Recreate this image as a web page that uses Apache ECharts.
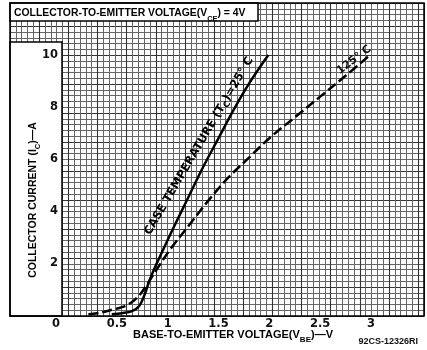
<!DOCTYPE html>
<html><head><meta charset="utf-8">
<script src="https://cdn.jsdelivr.net/npm/echarts@6/dist/echarts.min.js"></script>
<style>html,body{margin:0;padding:0;background:#fff}#c{width:427px;height:350px}</style>
</head><body><div id="c"></div>
<script>
// ---- data ----
const xTickLabels = ['0', '0.5', '1', '1.5', '2', '2.5', '3'];
const yTickLabels = ['2', '4', '6', '8', '10'];
// Case temperature 25 °C (solid)
const vbe25 = [0.45, 0.55, 0.65, 0.72, 0.77, 0.81, 0.86, 0.93, 1.05, 1.2, 1.35, 1.5, 1.65, 1.8, 1.99];
const ic25  = [0.03, 0.07, 0.15, 0.35, 0.75, 1.2, 1.7, 2.3, 3.3, 4.5, 5.7, 6.8, 7.9, 8.9, 10.0];
// Case temperature 125 °C (dashed)
const vbe125 = [0.22, 0.35, 0.45, 0.55, 0.65, 0.73, 0.81, 0.9, 1.03, 1.2, 1.4, 1.6, 1.8, 2.0, 2.25, 2.5, 2.75, 2.99];
const ic125  = [0.03, 0.1, 0.2, 0.3, 0.5, 0.8, 1.25, 1.8, 2.55, 3.4, 4.4, 5.3, 6.05, 6.8, 7.6, 8.4, 9.2, 10.0];

const FONT = 'Liberation Sans';
const FONT2 = 'DejaVu Sans';
const chart = echarts.init(document.getElementById('c'), null, {renderer: 'canvas'});

const paperAxis = (max, interval, color, width) => ({
  gridIndex: 0, type: 'value', min: 0, max: max, interval: interval, z: 0,
  axisLine: {show: false}, axisTick: {show: false}, axisLabel: {show: false},
  splitLine: {show: true, lineStyle: {color: color, width: width}}
});

const subRich = (size) => ({
  n: {fontFamily: FONT, fontWeight: 'bold', fontSize: size, color: '#111', lineHeight: 18, verticalAlign: 'middle'},
  s: {fontFamily: FONT, fontWeight: 'bold', fontSize: size - 3, color: '#111', lineHeight: 9, verticalAlign: 'bottom'}
});

const option = {
  backgroundColor: '#fff',
  animation: false,
  grid: [
    {left: 10, right: 3, top: 3, bottom: 34},
    {left: 66, right: 56, top: 55, bottom: 35}
  ],
  xAxis: [
    paperAxis(71, 1, '#666', 1),
    paperAxis(71, 5, '#333', 1.1),
    {
      gridIndex: 1, type: 'value', min: 0, max: 3, interval: 0.5, z: 40,
      axisLine: {show: false}, axisTick: {show: false}, splitLine: {show: false},
      axisLabel: {
        show: true, margin: 3, color: '#111', fontFamily: FONT2, fontWeight: 'bold', fontSize: 11.5,
        formatter: v => {
          const lab = xTickLabels[Math.round(v / 0.5)];
          return Math.round(v / 0.5) === 0 ? '{z|' + lab + '}' : lab;
        },
        rich: {z: {fontFamily: FONT2, fontWeight: 'bold', fontSize: 11.5, color: '#111', padding: [0, 20, 0, 0]}}
      }
    }
  ],
  yAxis: [
    paperAxis(54, 1, '#666', 1),
    paperAxis(54, 5, '#333', 1.1),
    {
      gridIndex: 1, type: 'value', min: 0, max: 10, interval: 2, z: 40,
      axisLine: {show: false}, axisTick: {show: false}, splitLine: {show: false},
      axisLabel: {
        show: true, margin: 8, color: '#111', fontFamily: FONT2, fontWeight: 'bold', fontSize: 11.5,
        formatter: v => v === 0 ? '' : yTickLabels[Math.round(v / 2) - 1]
      }
    }
  ],
  series: [
    {
      type: 'line', xAxisIndex: 2, yAxisIndex: 2, z: 30, clip: false,
      data: vbe25.map((v, i) => [v, ic25[i]]),
      showSymbol: false, smooth: 0.35,
      lineStyle: {color: '#000', width: 2.5}
    },
    {
      type: 'line', xAxisIndex: 2, yAxisIndex: 2, z: 30, clip: false,
      data: vbe125.map((v, i) => [v, ic125[i]]),
      showSymbol: false, smooth: 0.35,
      lineStyle: {color: '#000', width: 2.5, type: [10, 4]}
    }
  ],
  graphic: [
    {type: 'rect', z: 20, shape: {x: 10, y: 42, width: 52, height: 274},
     style: {fill: '#fff', stroke: '#000', lineWidth: 1.5}},
    {type: 'rect', z: 20, shape: {x: 10, y: 3, width: 248, height: 18},
     style: {fill: '#fff', stroke: '#000', lineWidth: 1.5}},
    {type: 'rect', z: 21, shape: {x: 10, y: 3, width: 414, height: 313},
     style: {fill: null, stroke: '#000', lineWidth: 1.5}},
    {type: 'text', z: 50, x: 14, y: 13,
     style: {text: '{n|COLLECTOR-TO-EMITTER VOLTAGE(V}{s|CE}{n|) = 4V}', rich: subRich(10.4),
             align: 'left', verticalAlign: 'middle'}},
    {type: 'text', z: 50, x: 33, y: 200, rotation: Math.PI / 2,
     style: {text: '{n|COLLECTOR CURRENT (I}{s|C}{n|)\u2014A}', rich: subRich(10.5),
             align: 'center', verticalAlign: 'middle'}},
    {type: 'text', z: 50, x: 233, y: 335,
     style: {text: '{n|BASE-TO-EMITTER VOLTAGE(V}{s|BE}{n|)\u2014V}', rich: subRich(11),
             align: 'center', verticalAlign: 'middle'}},
    {type: 'text', z: 50, x: 418, y: 342,
     style: {text: '92CS-12326RI', fontFamily: FONT, fontWeight: 'bold', fontSize: 9, fill: '#111',
             align: 'right', verticalAlign: 'middle'}},
    {type: 'text', z: 50, x: 199, y: 146, rotation: 1.04,
     style: {text: '{n|CASE TEMPERATURE (T}{s|C}{n|)=25\u00b0 C}',
             rich: {
               n: {fontFamily: FONT2, fontWeight: 'bold', fontSize: 11.5, color: '#111', lineHeight: 16, verticalAlign: 'middle'},
               s: {fontFamily: FONT2, fontWeight: 'bold', fontSize: 8.5, color: '#111', lineHeight: 8, verticalAlign: 'bottom'}
             },
             align: 'center', verticalAlign: 'middle'}},
    {type: 'text', z: 50, x: 354, y: 60, rotation: 0.65,
     style: {text: '125\u00b0 C', fontFamily: FONT2, fontWeight: 'bold', fontSize: 11, fill: '#111',
             align: 'center', verticalAlign: 'middle'}}
  ]
};
chart.setOption(option);
</script>
</body></html>
